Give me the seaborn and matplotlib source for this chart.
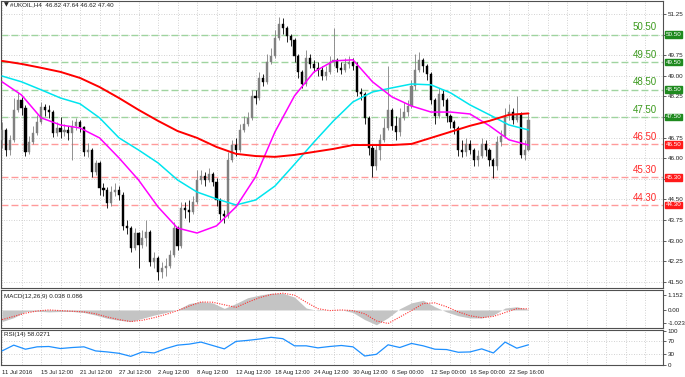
import numpy as np
import matplotlib
matplotlib.use("Agg")
import matplotlib.pyplot as plt
import matplotlib.transforms as mtransforms
import seaborn as sns

# price candles (each candle ~ 2.4 H4 bars), open = previous close
first_open = 46.67
closes = [47.03, 46.30, 46.67, 47.76, 48.12, 47.83, 46.23, 46.59, 46.92, 47.32,
          47.87, 47.76, 47.68, 46.92, 47.10, 46.96, 47.03, 46.92, 47.17, 47.32,
          47.14, 46.23, 46.30, 45.50, 45.83, 44.92, 44.85, 44.37, 44.77, 44.85,
          44.67, 43.54, 43.46, 42.74, 43.28, 42.85, 43.10, 43.32, 42.23, 42.37,
          41.86, 42.01, 42.08, 42.48, 43.46, 42.81, 44.19, 44.12, 44.05, 44.41,
          45.21, 45.36, 45.21, 45.43, 45.14, 44.48, 43.97, 43.90, 45.94, 46.48,
          46.30, 47.03, 47.25, 47.47, 48.27, 48.19, 48.92, 48.78, 49.50, 49.72,
          50.38, 50.89, 50.74, 50.45, 50.30, 49.72, 49.14, 48.70, 49.65, 49.43,
          49.29, 49.21, 48.99, 49.14, 49.50, 49.58, 49.29, 49.21, 49.43, 49.50,
          49.36, 48.41, 48.34, 47.47, 46.38, 45.72, 46.30, 46.67, 47.10, 47.76,
          47.17, 46.96, 47.47, 47.68, 47.90, 48.63, 49.21, 49.58, 49.36, 49.07,
          48.12, 47.54, 48.34, 48.12, 47.54, 47.32, 47.10, 46.30, 46.23, 46.52,
          46.30, 45.94, 46.08, 46.52, 46.30, 45.94, 45.72, 46.59, 46.81, 47.54,
          47.68, 47.39, 47.61, 46.12, 46.30, 47.40]
highs = [47.32, 47.10, 46.85, 48.19, 48.41, 48.23, 47.94, 46.81, 47.17, 47.58,
         48.05, 47.98, 47.94, 47.76, 47.32, 47.50, 47.25, 47.17, 47.39, 47.47,
         47.39, 47.17, 46.56, 46.37, 45.94, 45.90, 45.10, 44.95, 44.99, 45.10,
         44.99, 44.77, 43.76, 43.54, 43.46, 43.32, 43.39, 43.76, 43.40, 42.59,
         42.45, 42.23, 42.37, 42.66, 43.68, 43.54, 44.41, 44.41, 44.48, 44.63,
         45.57, 45.57, 45.50, 45.65, 45.50, 45.28, 44.55, 44.12, 46.23, 46.67,
         46.74, 47.25, 47.54, 47.68, 48.49, 48.49, 49.14, 49.07, 49.79, 50.01,
         50.67, 51.14, 51.10, 50.81, 50.52, 50.38, 49.80, 49.21, 49.94, 49.79,
         49.58, 49.50, 49.36, 49.36, 49.72, 50.74, 49.65, 49.50, 49.65, 49.72,
         49.65, 49.50, 48.56, 48.42, 47.55, 46.48, 46.52, 46.88, 47.47, 49.36,
         47.83, 47.54, 47.83, 48.05, 48.12, 48.85, 49.79, 49.87, 49.65, 49.43,
         49.15, 48.20, 48.56, 48.49, 48.20, 47.61, 47.39, 47.17, 46.67, 46.74,
         46.67, 46.38, 46.30, 46.74, 46.67, 46.38, 46.01, 46.81, 47.03, 47.83,
         47.98, 47.83, 48.27, 47.68, 46.67, 47.64]
lows = [46.38, 46.08, 46.12, 46.60, 47.68, 47.57, 46.08, 46.15, 46.52, 46.85,
        47.25, 47.54, 47.47, 46.78, 46.81, 46.74, 46.81, 46.67, 45.94, 47.03,
        46.96, 46.08, 46.05, 45.32, 45.39, 44.67, 44.63, 44.19, 44.26, 44.63,
        44.48, 43.39, 43.25, 42.59, 42.66, 42.01, 42.74, 42.81, 42.09, 42.01,
        41.57, 41.65, 41.72, 42.01, 42.40, 42.66, 42.74, 43.83, 43.68, 43.97,
        44.34, 45.07, 44.99, 45.14, 44.99, 44.26, 43.76, 43.65, 43.83, 45.85,
        46.08, 46.22, 46.96, 47.17, 47.40, 47.98, 48.12, 48.63, 48.70, 49.43,
        49.65, 50.30, 50.52, 50.23, 50.09, 49.50, 48.92, 48.56, 48.62, 49.29,
        49.14, 48.99, 48.85, 48.85, 49.07, 49.36, 49.14, 49.07, 49.14, 49.29,
        49.21, 48.27, 48.12, 47.25, 46.12, 45.32, 45.57, 45.94, 46.60, 47.02,
        47.03, 46.67, 46.81, 47.39, 47.54, 47.83, 48.49, 49.15, 49.14, 48.85,
        47.98, 47.25, 47.47, 47.90, 47.32, 47.10, 46.88, 46.08, 46.05, 46.08,
        46.16, 45.72, 45.72, 46.01, 46.08, 45.72, 45.28, 45.57, 46.45, 46.74,
        47.39, 47.25, 47.32, 46.01, 45.94, 46.25]

# moving averages read every 5 candles
ma_idx = list(range(0, 136, 5))
ma_slow = [49.54, 49.43, 49.29, 49.14, 48.92, 48.59, 48.19, 47.76, 47.36, 46.99,
           46.74, 46.41, 46.16, 46.08, 46.05, 46.12, 46.23, 46.34, 46.48, 46.48,
           46.48, 46.52, 46.74, 46.96, 47.18, 47.36, 47.58, 47.63]
ma_mid = [48.99, 48.78, 48.49, 48.19, 47.98, 47.47, 46.74, 46.30, 45.83, 45.21,
          44.77, 44.52, 44.30, 44.48, 44.99, 45.78, 46.59, 47.36, 48.05, 48.41,
          48.56, 48.70, 48.67, 48.38, 47.94, 47.58, 47.21, 47.03]
ma_fast = [48.78, 48.30, 47.47, 47.21, 47.10, 46.74, 46.01, 45.21, 44.23, 43.46,
           43.28, 43.54, 44.23, 45.32, 46.96, 48.27, 49.14, 49.54, 49.58, 48.78,
           48.23, 47.90, 47.68, 47.68, 47.61, 47.18, 46.67, 46.48]

# oscillators read every 3 candles
osc_idx = list(range(0, 136, 3))
macd_main = [-0.9, -0.6, -0.12, -0.1, -0.15, -0.12, -0.12, -0.2, -0.4, -0.65,
             -0.8, -0.9, -0.65, -0.4, -0.2, 0.02, 0.5, 0.65, 0.55, 0.12,
             0.5, 0.95, 1.15, 1.3, 1.3, 1.0, 0.15, -0.05, 0.0, 0.02,
             -0.2, -0.75, -1.15, -0.6, 0.1, 0.55, 0.75, 0.25, -0.15, -0.45,
             -0.62, -0.62, -0.4, 0.15, 0.25, 0.04]
macd_signal = [-0.75, -0.5, -0.25, -0.08, 0.0, -0.05, -0.1, -0.15, -0.3, -0.55,
               -0.75, -0.9, -0.8, -0.6, -0.35, -0.05, 0.3, 0.62, 0.6, 0.4,
               0.2, 0.6, 0.95, 1.2, 1.3, 1.15, 0.6, 0.1, -0.05, 0.0,
               -0.05, -0.3, -0.85, -1.05, -0.55, -0.05, 0.5, 0.55, 0.25, -0.15,
               -0.45, -0.6, -0.5, -0.2, 0.1, 0.09]
rsi = [40, 57, 45, 52, 53, 47, 50, 52, 40, 37, 33, 24, 37, 34, 47, 57, 60, 66, 56, 46,
       68, 71, 75, 80, 76, 55, 55, 49, 53, 56, 52, 25, 30, 58, 50, 62, 55, 45, 44, 36,
       37, 46, 34, 66, 48, 58]

green_levels = [50.50, 49.50, 48.50, 47.50]
red_levels = [46.50, 45.30, 44.30]

date_labels = ["11 Jul 2016", "15 Jul 12:00", "21 Jul 12:00", "27 Jul 12:00",
               "2 Aug 12:00", "8 Aug 12:00", "12 Aug 12:00", "18 Aug 12:00",
               "24 Aug 12:00", "30 Aug 12:00", "6 Sep 00:00", "12 Sep 00:00",
               "16 Sep 00:00", "22 Sep 16:00"]

sns.set_style("white")
plt.rcParams['font.family'] = ['Liberation Sans', 'DejaVu Sans']
FS = 4.5
FSX = 4.2
grid_kw = dict(color='#c4c4c4', lw=0.6, ls=(0, (1, 2)))

fig = plt.figure(figsize=(6.85, 3.77), dpi=100)
ax = fig.add_axes([0.0015, 0.2361, 0.9664, 0.7613])
axm = fig.add_axes([0.0015, 0.1300, 0.9664, 0.1008])
axr = fig.add_axes([0.0015, 0.0318, 0.9664, 0.0928])

xlim = (-0.26, 169.5)
for a in (ax, axm, axr):
    a.set_xlim(*xlim)
    a.set_xticks(range(0, 170, 5))
    a.grid(True, axis='x', **grid_kw)
    for s in a.spines.values():
        s.set_color('#505050')
        s.set_linewidth(0.8)
    a.yaxis.tick_right()
    a.tick_params(axis='y', labelsize=FS, length=2, width=0.5, pad=1.5, colors='#202020')
    a.tick_params(axis='x', labelsize=FSX, length=2, width=0.5, pad=1.5, colors='#202020')
    a.set_axisbelow(True)

# ---- main price panel ----
ax.set_ylim(41.28, 51.72)
yt = np.arange(41.50, 51.26, 0.75)
ax.set_yticks(yt)
ax.set_yticklabels(['' if round(v, 2) in (45.25, 47.50, 50.50) else f"{v:.2f}" for v in yt])
ax.grid(True, axis='y', **grid_kw)
ax.tick_params(labelbottom=False)

idx = np.arange(len(closes))
c = np.array(closes)
o = np.r_[first_open, c[:-1]]
col = np.where(c >= o, '#808080', '#000000')
ax.vlines(idx, lows, highs, colors=col, lw=0.6, zorder=3)
ax.bar(idx, np.abs(c - o), bottom=np.minimum(o, c), width=0.55,
       color=col, edgecolor=col, lw=0.3, zorder=4)

sns.lineplot(x=ma_idx, y=ma_slow, ax=ax, color='#ff0000', lw=1.4, zorder=6)
sns.lineplot(x=ma_idx, y=ma_mid, ax=ax, color='#00e5ee', lw=1.1, zorder=5)
sns.lineplot(x=ma_idx, y=ma_fast, ax=ax, color='#ff00ff', lw=1.1, zorder=5)

trans = mtransforms.blended_transform_factory(ax.transAxes, ax.transData)
for lv in green_levels:
    ax.axhline(lv, color='#9fd49f', lw=1.0, ls=(0, (5, 2.2)), zorder=2)
    ax.text(0.991, lv + 0.08, f"{lv:.2f}", transform=trans, ha='right', va='bottom',
            fontsize=7, color='#3c9a1e')
    ax.text(1.004, lv, f"{lv:.2f}", transform=trans, ha='left', va='center',
            fontsize=FS, color='white', clip_on=False, zorder=10,
            bbox=dict(boxstyle='square,pad=0.15', fc='#1f8a1f', ec='#1f8a1f'))
for lv in red_levels:
    ax.axhline(lv, color='#ff9a9a', lw=1.0, ls=(0, (5, 2.2)), zorder=2)
    ax.text(0.991, lv + 0.08, f"{lv:.2f}", transform=trans, ha='right', va='bottom',
            fontsize=7, color='#ff2a2a')
    ax.text(1.004, lv, f"{lv:.2f}", transform=trans, ha='left', va='center',
            fontsize=FS, color='white', clip_on=False, zorder=10,
            bbox=dict(boxstyle='square,pad=0.15', fc='#ff1a1a', ec='#ff1a1a'))

ax.text(0.004, 0.986, "\u25bc", transform=ax.transAxes, fontsize=FS,
        va='center', ha='left', family=['DejaVu Sans'])
ax.text(0.014, 0.986, "#UKOIL,H4  46.82 47.64 46.62 47.40", transform=ax.transAxes,
        fontsize=FS, va='center', ha='left', color='#202020')

# ---- MACD panel ----
axm.set_ylim(-1.40, 1.55)
axm.set_yticks([1.152, 0.0, -1.023])
axm.set_yticklabels(['1.152', '0.00', '-1.023'])
axm.tick_params(labelbottom=False)
axm.fill_between(osc_idx, 0, macd_main, color='#c4c4c4', lw=0, zorder=2)
sns.lineplot(x=osc_idx, y=macd_signal, ax=axm, color='#ff3030', lw=0.8,
             ls=(0, (1, 1.2)), zorder=3)
axm.text(0.004, 0.84, "MACD(12,26,9) 0.038 0.086", transform=axm.transAxes,
         fontsize=FS, va='center', ha='left', color='#202020')

# ---- RSI panel ----
axr.set_ylim(-1.5, 101.5)
axr.set_yticks([100, 70, 30, 0])
axr.set_yticklabels(['100', '70', '30', '0'])
axr.axhline(70, **grid_kw)
axr.axhline(30, **grid_kw)
sns.lineplot(x=osc_idx, y=rsi, ax=axr, color='#1e90ff', lw=0.9, zorder=3)
axr.text(0.004, 0.886, "RSI(14) 58.0271", transform=axr.transAxes,
         fontsize=FS, va='center', ha='left', color='#202020')

xlabs = []
for k in range(0, 170, 5):
    if k % 10 == 0 and k // 10 < len(date_labels):
        xlabs.append(date_labels[k // 10])
    else:
        xlabs.append('')
axr.set_xticklabels(xlabs)
for t in axr.get_xticklabels():
    t.set_horizontalalignment('left')

for a in (ax, axm, axr):
    a.set_xlabel('')
    a.set_ylabel('')

fig.savefig("out.png", dpi=100)
